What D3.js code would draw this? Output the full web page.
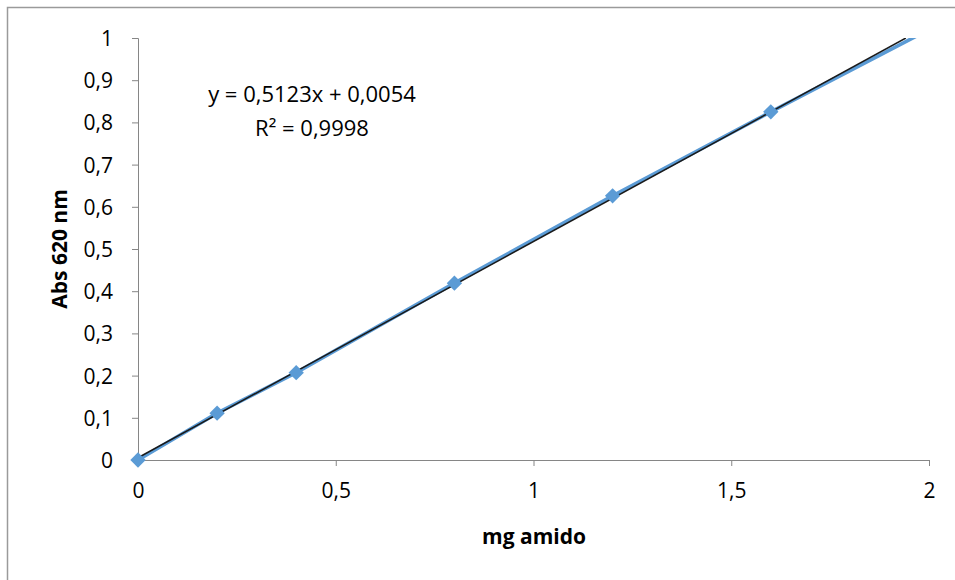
<!DOCTYPE html>
<html>
<head>
<meta charset="utf-8">
<script src="https://cdn.jsdelivr.net/npm/d3@7"></script>
<style>
  body { margin: 0; background: #fff; }
  text { font-family: "Open Sans", "Noto Sans", sans-serif; fill: #000; }
</style>
</head>
<body>
<script>
// data
let xValues = [0, 0.2, 0.4, 0.8, 1.2, 1.6, 2.0];
let absValues = [0, 0.111, 0.207, 0.419, 0.626, 0.825, 1.02];
let xTicks = [0, 0.5, 1, 1.5, 2];
let yTicks = [0, 0.1, 0.2, 0.3, 0.4, 0.5, 0.6, 0.7, 0.8, 0.9, 1];
let slope = 0.5123;
let intercept = 0.0054;
let eqLines = ["y = 0,5123x + 0,0054", "R² = 0,9998"];

let W = 955, H = 580;
let comma = d => String(d).replace('.', ',');

let svg = d3.select('body')
    .append('svg')
    .attr('width', W)
    .attr('height', H);

// chart frame
svg.append('rect')
    .attr('x', 7.5)
    .attr('y', 7.5)
    .attr('width', W + 10)
    .attr('height', H + 10)
    .attr('fill', 'none')
    .attr('stroke', '#9a9a9a')
    .attr('stroke-width', 1.5);

let x = d3.scaleLinear().domain([0, 2]).range([138, 929]);
let y = d3.scaleLinear().domain([0, 1]).range([460, 38]);

svg.append('clipPath')
    .attr('id', 'plot')
    .append('rect')
    .attr('x', x(0) - 10)
    .attr('y', y(1))
    .attr('width', x(2) - x(0) + 20)
    .attr('height', y(0) - y(1) + 10);

// axes
let yAxis = svg.append('g')
    .attr('transform', `translate(${x(0)},0)`)
    .call(d3.axisLeft(y).tickValues(yTicks).tickSize(6).tickPadding(19).tickFormat(comma));

let xAxis = svg.append('g')
    .attr('transform', `translate(0,${y(0)})`)
    .call(d3.axisBottom(x).tickValues(xTicks).tickSize(6).tickPadding(19).tickFormat(comma));

[xAxis, yAxis].forEach(a => {
    a.select('.domain').attr('stroke', '#868686').attr('stroke-width', 1);
    a.selectAll('.tick line').attr('stroke', '#868686');
    a.selectAll('.tick text')
        .style('font-size', '21px')
        .style('font-family', '"Open Sans", sans-serif')
        .attr('fill', '#000');
});
yAxis.selectAll('.tick text').attr('dy', '0.36em');
xAxis.selectAll('.tick text').attr('dy', '0.62em');

// series line
let pts = xValues.map((d, i) => [d, absValues[i]]);
let plot = svg.append('g').attr('clip-path', 'url(#plot)');

plot.append('path')
    .datum(pts)
    .attr('fill', 'none')
    .attr('stroke', '#5b9bd5')
    .attr('stroke-width', 3.6)
    .attr('d', d3.line().x(d => x(d[0])).y(d => y(d[1])));

// trendline
let xEnd = (1 - intercept) / slope;
plot.append('line')
    .attr('x1', x(0))
    .attr('y1', y(intercept))
    .attr('x2', x(xEnd))
    .attr('y2', y(1))
    .attr('stroke', '#1a1a1a')
    .attr('stroke-width', 1.5);

// markers
plot.selectAll('.mark')
    .data(pts)
    .enter()
    .append('path')
    .attr('class', 'mark')
    .attr('d', d3.symbol().type(d3.symbolDiamond2).size(150))
    .attr('transform', d => `translate(${x(d[0])},${y(d[1])})`)
    .attr('fill', '#5b9bd5');

// equation
svg.selectAll('.eq')
    .data(eqLines)
    .enter()
    .append('text')
    .attr('class', 'eq')
    .attr('x', 312)
    .attr('y', (d, i) => 102 + i * 34)
    .attr('text-anchor', 'middle')
    .style('font-size', '22px')
    .text(d => d);

// axis titles
svg.append('text')
    .attr('x', 534)
    .attr('y', 544)
    .attr('text-anchor', 'middle')
    .style('font-size', '21px')
    .style('font-weight', 'bold')
    .text('mg amido');

svg.append('text')
    .attr('transform', 'translate(67,249) rotate(-90)')
    .attr('text-anchor', 'middle')
    .style('font-size', '21px')
    .style('font-weight', 'bold')
    .text('Abs 620 nm');
</script>
</body>
</html>
